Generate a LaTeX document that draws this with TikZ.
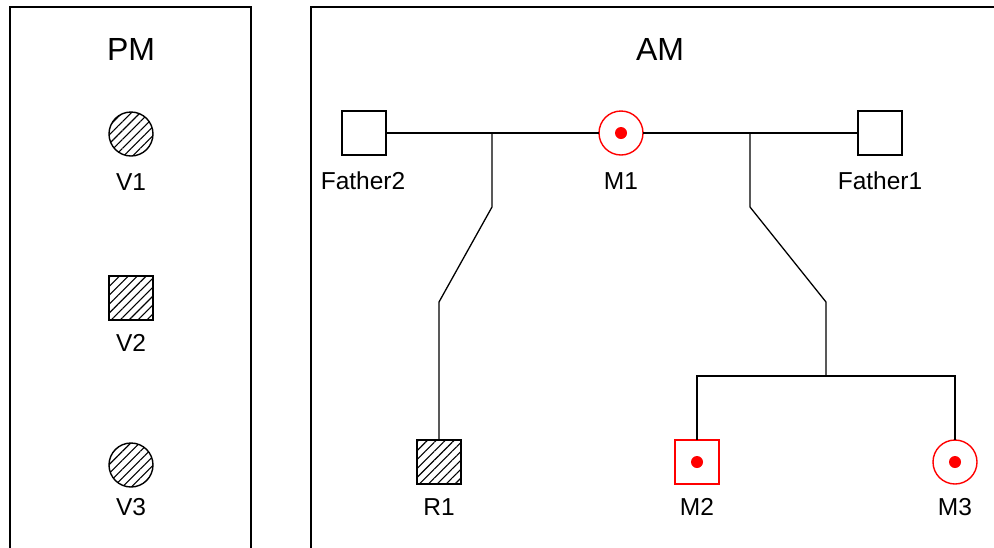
\documentclass[tikz,border=0pt]{standalone}
\usepackage{fontspec}
\setmainfont{Liberation Sans}
\usetikzlibrary{patterns.meta}
\begin{document}
\begin{tikzpicture}[x=1pt,y=-1pt,
  every node/.style={inner sep=0pt, outer sep=0pt},
  panel/.style={draw=black, line width=1.2pt},
  title/.style={font=\fontsize{32}{34}\selectfont},
  lbl/.style={font=\fontsize{24.5}{26}\selectfont},
  sq/.style={draw=black, line width=1.4pt, minimum size=44pt, shape=rectangle, fill=white},
  circ/.style={draw=black, line width=1.4pt, minimum size=44pt, shape=circle, fill=white},
  hatch/.style={pattern={Lines[angle=45, distance=6.3pt, line width=1.1pt]}},
  redsq/.style={sq, draw=red},
  redcirc/.style={circ, draw=red},
  dot/.style={shape=circle, fill=red, minimum size=12pt},
  conn/.style={draw=black, line width=1.3pt}
]
\useasboundingbox (0,0) rectangle (994,547);
\clip (0,0) rectangle (994,547);
% panels
\draw[panel] (10,7) rectangle (251,560);
\draw[panel] (311,7) rectangle (1010,560);
\node[title] (pm) at (131,49) {PM};
\node[title] (am) at (660,49) {AM};
% PM
\node[circ, hatch] (v1) at (131,134) {};
\node[lbl] (v1l) at (131,182) {V1};
\node[sq, hatch] (v2) at (131,298) {};
\node[lbl] (v2l) at (131,343) {V2};
\node[circ, hatch] (v3) at (131,465) {};
\node[lbl] (v3l) at (131,507) {V3};
% AM
\node[sq] (f2) at (364,133) {};
\node[lbl] (f2l) at (363,181) {Father2};
\node[redcirc] (m1) at (621,133) {};
\node[dot] (m1d) at (621,133) {};
\node[lbl] (m1l) at (621,181) {M1};
\node[sq] (f1) at (880,133) {};
\node[lbl] (f1l) at (880,181) {Father1};
\node[sq, hatch] (r1) at (439,462) {};
\node[lbl] (r1l) at (439,507) {R1};
\node[redsq] (m2) at (697,462) {};
\node[dot] (m2d) at (697,462) {};
\node[lbl] (m2l) at (697,507) {M2};
\node[redcirc] (m3) at (955,462) {};
\node[dot] (m3d) at (955,462) {};
\node[lbl] (m3l) at (955,507) {M3};
% connectors
\coordinate (b1) at (492,133);
\coordinate (b1a) at (492,207);
\coordinate (b1b) at (439,302);
\coordinate (b2) at (750,133);
\coordinate (b2a) at (750,207);
\coordinate (b2b) at (826,302);
\coordinate (b2c) at (826,376);
\coordinate (hl) at (697,376);
\coordinate (hr) at (955,376);
\draw[conn] (f2.east) -- (m1.west);
\draw[conn] (m1.east) -- (f1.west);
\draw[conn] (b1) -- (b1a) -- (b1b) -- (r1.north);
\draw[conn] (b2) -- (b2a) -- (b2b) -- (b2c);
\draw[conn] (m2.north) -- (hl) -- (hr) -- (m3.north);
\end{tikzpicture}
\end{document}
